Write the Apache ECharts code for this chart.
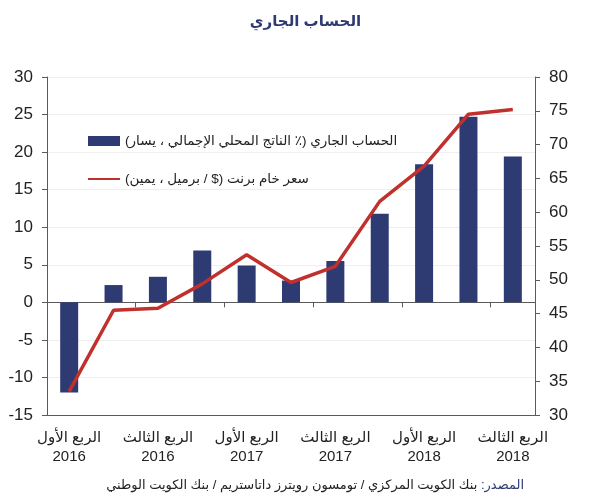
<!DOCTYPE html>
<html>
<head>
<meta charset="utf-8">
<script src="https://cdn.jsdelivr.net/npm/echarts@6/dist/echarts.min.js"></script>
<style>
  html, body { margin: 0; padding: 0; background: #fff; }
  #chart { width: 611px; height: 500px; }
</style>
</head>
<body>
<div id="chart"></div>
<script>
const quarters = [
  'الربع الأول\n2016', 'الربع الثاني\n2016', 'الربع الثالث\n2016', 'الربع الرابع\n2016',
  'الربع الأول\n2017', 'الربع الثاني\n2017', 'الربع الثالث\n2017', 'الربع الرابع\n2017',
  'الربع الأول\n2018', 'الربع الثاني\n2018', 'الربع الثالث\n2018'
]
// الحساب الجاري (% من الناتج المحلي الإجمالي)
const currentAccount = [-12.0, 2.3, 3.4, 6.9, 4.9, 2.9, 5.5, 11.8, 18.4, 24.7, 19.4]
// سعر خام برنت ($ / برميل)
const brentPrice = [33.5, 45.5, 45.8, 49.4, 53.7, 49.6, 52.0, 61.6, 66.8, 74.5, 75.2]

const leftTicks = { min: -15, max: 30, interval: 5 }
const rightTicks = { min: 30, max: 80, interval: 5 }

const NAME_BAR = 'الحساب الجاري (٪ الناتج المحلي الإجمالي ، يسار)'
const NAME_LINE = 'سعر خام برنت ($ / برميل ، يمين)'
const SOURCE_LABEL = 'المصدر:'
const SOURCE_TEXT = 'بنك الكويت المركزي / تومسون رويترز داتاستريم / بنك الكويت الوطني'

const rtl = s => '\u202B' + s + '\u202C'
const FONT = '"Liberation Sans", "DejaVu Sans", Arial, sans-serif'
const NAVY = '#2e3a72'
const RED = '#c0302c'
const AXIS = '#5a5a5a'

const chart = echarts.init(document.getElementById('chart'))

chart.setOption({
  animation: false,
  textStyle: { fontFamily: FONT },
  title: [
    {
      text: 'الحساب الجاري',
      left: 'center',
      top: 9,
      textStyle: { color: NAVY, fontSize: 15, fontWeight: 'bold', fontFamily: FONT }
    },
    {
      text: '{a|' + rtl(SOURCE_TEXT) + '}{s|\u00A0}{b|' + rtl(SOURCE_LABEL) + '}',
      right: 82,
      top: 474,
      textStyle: {
        fontWeight: 'normal',
        rich: {
          a: { color: '#222', fontSize: 13, fontWeight: 'normal', fontFamily: FONT },
          s: { color: '#222', fontSize: 13, fontWeight: 'normal', fontFamily: FONT },
          b: { color: NAVY, fontSize: 13, fontWeight: 'normal', fontFamily: FONT }
        }
      }
    }
  ],
  legend: {
    orient: 'vertical',
    left: 82,
    top: 129,
    itemWidth: 32,
    itemHeight: 10,
    itemGap: 24,
    textStyle: { color: '#222', fontSize: 13.5, fontFamily: FONT },
    formatter: name => rtl(name),
    data: [
      { name: NAME_BAR, icon: 'rect' },
      { name: NAME_LINE, itemStyle: { opacity: 0 } }
    ]
  },
  grid: { left: 47, right: 76, top: 77, bottom: 85 },
  xAxis: [
    {
      type: 'category',
      data: quarters,
      position: 'bottom',
      axisLine: { onZero: true, lineStyle: { color: AXIS, width: 1 } },
      axisTick: { show: true, alignWithLabel: false, length: 5, lineStyle: { color: AXIS } },
      axisLabel: { show: false },
      splitLine: { show: false }
    },
    {
      type: 'category',
      data: quarters,
      position: 'bottom',
      axisLine: { onZero: false, lineStyle: { color: AXIS, width: 1 } },
      axisTick: { show: false },
      axisLabel: {
        interval: 1,
        margin: 13,
        color: '#222',
        fontSize: 15,
        lineHeight: 19,
        fontFamily: FONT
      },
      splitLine: { show: false }
    }
  ],
  yAxis: [
    {
      type: 'value',
      position: 'left',
      min: leftTicks.min,
      max: leftTicks.max,
      interval: leftTicks.interval,
      axisLine: { show: true, lineStyle: { color: AXIS } },
      axisTick: { show: true, length: 5, lineStyle: { color: AXIS } },
      axisLabel: { color: '#222', fontSize: 17, margin: 14, fontFamily: FONT },
      splitLine: { show: true, lineStyle: { color: '#efefef', width: 1 } }
    },
    {
      type: 'value',
      position: 'right',
      min: rightTicks.min,
      max: rightTicks.max,
      interval: rightTicks.interval,
      axisLine: { show: true, lineStyle: { color: AXIS } },
      axisTick: { show: true, length: 5, lineStyle: { color: AXIS } },
      axisLabel: { color: '#222', fontSize: 17, margin: 14, fontFamily: FONT },
      splitLine: { show: false }
    }
  ],
  series: [
    {
      name: NAME_BAR,
      type: 'bar',
      xAxisIndex: 0,
      yAxisIndex: 0,
      barWidth: 18,
      itemStyle: { color: NAVY },
      data: currentAccount
    },
    {
      name: NAME_LINE,
      type: 'line',
      xAxisIndex: 0,
      yAxisIndex: 1,
      symbol: 'none',
      showSymbol: false,
      lineStyle: { color: RED, width: 3.5 },
      itemStyle: { color: RED },
      z: 3,
      data: brentPrice
    }
  ]
})
</script>
</body>
</html>
